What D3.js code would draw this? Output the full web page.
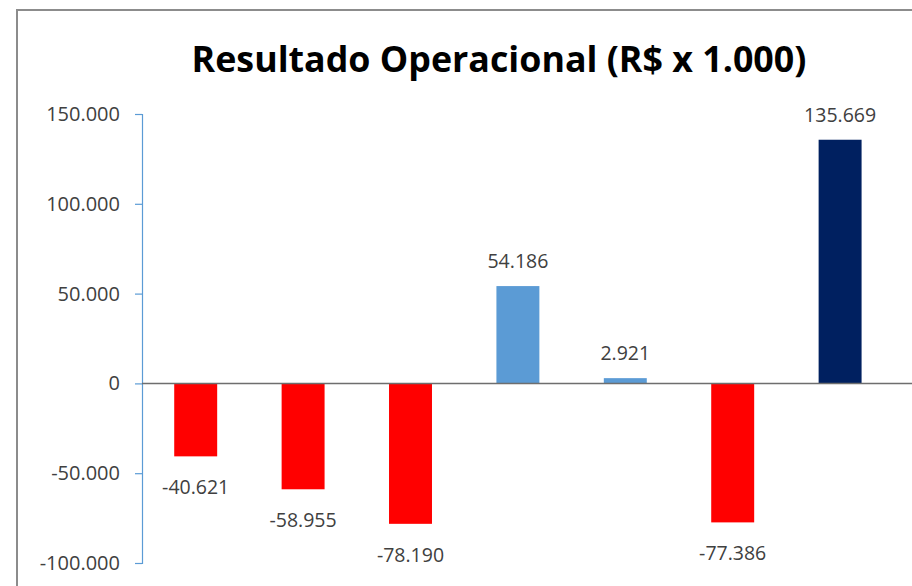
<!DOCTYPE html>
<html>
<head>
<meta charset="utf-8">
<script src="https://cdn.jsdelivr.net/npm/d3@7"></script>
<style>
    html, body { margin: 0; padding: 0; background: #fff; }
    text { font-family: "Open Sans", "Liberation Sans", sans-serif; }
</style>
</head>
<body>
<div id="chart"></div>
<script>
// Data
let categories = ["1", "2", "3", "4", "5", "6", "7"];
let values = [-40621, -58955, -78190, 54186, 2921, -77386, 135669];
let barColors = ["#ff0000", "#ff0000", "#ff0000", "#5b9bd5", "#5b9bd5", "#ff0000", "#002060"];
let yTicks = [-100000, -50000, 0, 50000, 100000, 150000];
let title = "Resultado Operacional (R$ x 1.000)";

let WIDTH = 912, HEIGHT = 586;
let margin = {left: 142, top: 114, right: 18, bottom: 23};
let plotWidth = 107.4 * categories.length;

// brazilian style thousands separator, plain hyphen for negatives
let fmt = d3.formatLocale({
    decimal: ",", thousands: ".", grouping: [3], currency: ["R$", ""], minus: "-"
}).format(",d");

let svg = d3.select("#chart")
    .append("svg")
    .attr("width", WIDTH)
    .attr("height", HEIGHT);

// chart frame (cropped at right and bottom)
svg.append("rect")
    .attr("x", 17)
    .attr("y", 10)
    .attr("width", WIDTH + 20)
    .attr("height", HEIGHT + 20)
    .attr("fill", "none")
    .attr("stroke", "#8c8c8c")
    .attr("stroke-width", 2);

let titleText = svg.append("text")
    .attr("x", 499)
    .attr("y", 72)
    .attr("text-anchor", "middle")
    .style("font-weight", "bold")
    .style("font-size", "32px")
    .attr("fill", "#000")
    .text(title);

// fit the title to the width it has in the reference
let titleLen = titleText.node().getComputedTextLength();
titleText.style("font-size", (32 * 615 / titleLen) + "px");

let xScale = d3.scaleBand()
    .domain(categories)
    .range([margin.left, margin.left + plotWidth])
    .paddingInner(0.6)
    .paddingOuter(0.3);

let yScale = d3.scaleLinear()
    .domain([-100000, 150000])
    .range([HEIGHT - margin.bottom, margin.top]);

// y axis
let yAxis = svg.append("g")
    .attr("transform", "translate(" + margin.left + ",0)")
    .call(d3.axisLeft(yScale)
        .tickValues(yTicks)
        .tickSize(7)
        .tickPadding(15)
        .tickFormat(function(d){ return fmt(d); }));

yAxis.select(".domain")
    .attr("stroke", "#5b9bd5")
    .attr("stroke-width", 1.2);
yAxis.selectAll(".tick line")
    .attr("stroke", "#5b9bd5")
    .attr("stroke-width", 1.2);
yAxis.selectAll(".tick text")
    .attr("fill", "#404040")
    .style("font-size", "20px")
    .style("font-family", "'Open Sans', sans-serif");

// bars
svg.selectAll(".bar")
    .data(values)
    .enter()
    .append("rect")
    .attr("class", "bar")
    .attr("x", function(d, i){ return xScale(categories[i]); })
    .attr("width", xScale.bandwidth())
    .attr("y", function(d){ return yScale(Math.max(0, d)); })
    .attr("height", function(d){ return Math.abs(yScale(d) - yScale(0)); })
    .attr("fill", function(d, i){ return barColors[i]; });

// zero line runs across to the cropped edge
svg.append("line")
    .attr("x1", margin.left)
    .attr("x2", WIDTH)
    .attr("y1", yScale(0))
    .attr("y2", yScale(0))
    .attr("stroke", "#6e6e6e")
    .attr("stroke-width", 1.5);

// data labels
svg.selectAll(".value-label")
    .data(values)
    .enter()
    .append("text")
    .attr("class", "value-label")
    .attr("x", function(d, i){ return xScale(categories[i]) + xScale.bandwidth() / 2; })
    .attr("y", function(d){ return d >= 0 ? yScale(d) - 18 : yScale(d) + 38; })
    .attr("text-anchor", "middle")
    .attr("fill", "#404040")
    .style("font-size", "19.5px")
    .text(function(d){ return fmt(d); });
</script>
</body>
</html>
